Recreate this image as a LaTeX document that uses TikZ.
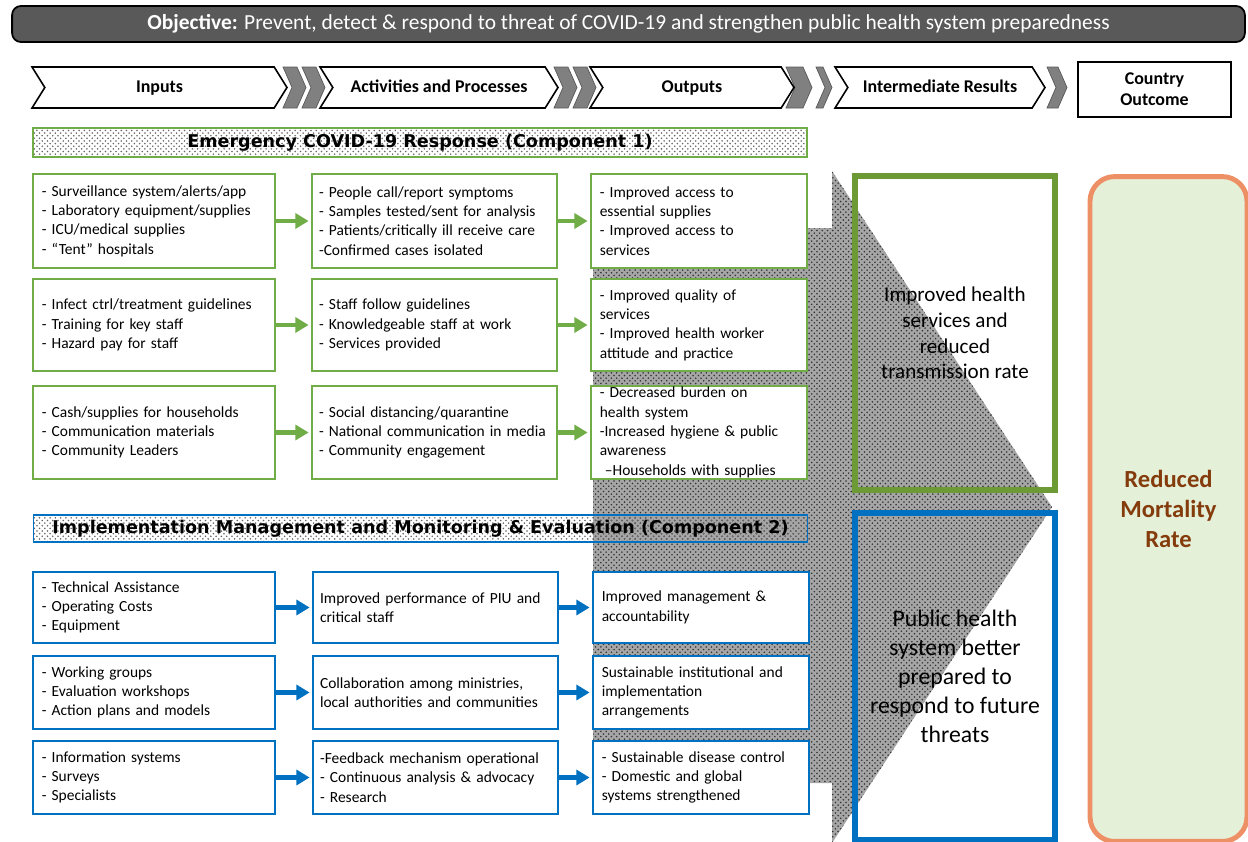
\documentclass[tikz,border=0pt]{standalone}
\usepackage{fontspec}
\setmainfont{Carlito}
\newfontfamily\bandfamily{DejaVu Sans}
\usetikzlibrary{arrows.meta}
\usetikzlibrary{patterns}
\usetikzlibrary{shapes.symbols}
\definecolor{cgreen}{HTML}{70AD47}
\definecolor{irgreen}{HTML}{6C9A34}
\definecolor{cblue}{HTML}{0070C0}
\definecolor{objgray}{HTML}{595959}
\definecolor{chevgray}{HTML}{808080}
\definecolor{mortline}{HTML}{EE9066}
\definecolor{mortfill}{HTML}{E5F0D9}
\definecolor{mortbrown}{HTML}{843C0C}
\newcommand{\cellfont}{\fontsize{8.8}{11}\selectfont\hyphenpenalty=10000}
\newcommand{\headfont}{\fontsize{10.2}{12}\selectfont\bfseries}
\newcommand{\bandfont}{\fontsize{10}{12}\selectfont\bandfamily\bfseries}

\begin{document}
\begin{tikzpicture}[x=0.02cm, y=-0.02cm,
    cell/.style={draw=cgreen, line width=0.85pt, fill=white, align=left,
      inner xsep=5pt, inner ysep=1pt, font=\cellfont},
    bcell/.style={cell, draw=cblue},
    colin/.style={text width=4.49cm},
    colact/.style={text width=4.62cm, inner xsep=4pt},
    colout/.style={text width=3.97cm},
    chev/.style={signal, signal from=west, signal to=east, signal pointer angle=116,
      draw, line width=0.9pt, fill=white, minimum height=0.82cm, inner sep=0pt,
      text height=1.6ex, text depth=0.5ex, font=\headfont},
    band/.style={line width=0.9pt, minimum width=15.48cm, inner sep=0pt,
      pattern=crosshatch dots, pattern color=black!60, font=\bandfont},
    garrow/.style={-{Triangle[length=7.5pt,width=8.5pt]}, line width=2.8pt, cgreen, shorten >=1.5pt},
    barrow/.style={garrow, cblue},
    irbox/.style={line width=3pt, minimum width=4cm, align=center}]
  \useasboundingbox (0,0) rectangle (1248,842);

  % objective bar
  \node[draw=black, fill=objgray, rounded corners=5pt, line width=1pt, text=white,
    minimum width=24.66cm, minimum height=0.72cm, font=\fontsize{12.2}{14}\selectfont]
    (obj) at (628.5,24) {\textbf{Objective:} Prevent, detect \& respond to threat of COVID-19 and strengthen public health system preparedness};

  % results chain header
  \foreach \x/\w in {283/14, 302/14, 554/14, 573/14, 786/17, 816/7, 1047/11}
    \filldraw[fill=chevgray, draw=objgray, line width=0.4pt]
      (\x,67) -- ++(\w,0) -- ++(9,20.5) -- ++(-9,20.5) -- ++(-\w,0) -- ++(9,-20.5) -- cycle;
  \node[chev, minimum width=5.1cm] (hin) at (159.5,87.5) {Inputs};
  \node[chev, minimum width=4.76cm] (hact) at (439,87.5) {Activities and Processes};
  \node[chev, minimum width=4.08cm] (hout) at (692,87.5) {Outputs};
  \node[chev, minimum width=4.2cm] (hir) at (940,87.5) {Intermediate Results};
  \node[draw, line width=1pt, minimum width=3.06cm, minimum height=1.1cm, align=center,
    font=\headfont] (hcountry) at (1154.5,89.5) {Country\\Outcome};

  % big dotted arrow behind the outputs
  \path[fill=gray!70, postaction={pattern=crosshatch dots, pattern color=black!80}]
    (593,228) -- (832,228) -- (832,171) -- (1052,507) -- (832,843) -- (832,783) -- (593,783) -- cycle;

  % component 1
  \node[band, draw=cgreen, minimum height=0.58cm] (comp1) at (420,142.5)
    {Emergency COVID-19 Response (Component 1)};

  \node[cell, colin, minimum height=1.88cm] (in1) at (154,221)
    {- Surveillance system/alerts/app\\- Laboratory equipment/supplies\\- ICU/medical supplies\\- “Tent” hospitals};
  \node[cell, colact, minimum height=1.88cm] (act1) at (434.5,221)
    {- People call/report symptoms\\- Samples tested/sent for analysis\\- Patients/critically ill receive care\\-Confirmed cases isolated};
  \node[cell, colout, minimum height=1.88cm] (out1) at (699,221)
    {- Improved access to\\essential supplies\\- Improved access to\\services};

  \node[cell, colin, minimum height=1.84cm] (in2) at (154,325)
    {- Infect ctrl/treatment guidelines\\- Training for key staff\\- Hazard pay for staff};
  \node[cell, colact, minimum height=1.84cm] (act2) at (434.5,325)
    {- Staff follow guidelines\\- Knowledgeable staff at work\\- Services provided};
  \node[cell, colout, minimum height=1.84cm] (out2) at (699,325)
    {- Improved quality of\\services\\- Improved health worker\\attitude and practice};

  \node[cell, colin, minimum height=1.86cm] (in3) at (154,432.5)
    {- Cash/supplies for households\\- Communication materials\\- Community Leaders};
  \node[cell, colact, minimum height=1.86cm] (act3) at (434.5,432.5)
    {- Social distancing/quarantine\\- National communication in media\\- Community engagement};
  \node[cell, colout, minimum height=1.86cm, inner ysep=0pt] (out3) at (699,432.5)
    {- Decreased burden on\\health system\\-Increased hygiene \& public\\awareness\\\ –Households with supplies};

  \foreach \r in {1,2,3} {
    \draw[garrow] (in\r) -- (act\r);
    \draw[garrow] (act\r) -- (out\r);
  }

  % component 2
  \node[band, draw=cblue, minimum height=0.54cm] (comp2) at (420.5,528.5)
    {Implementation Management and Monitoring \& Evaluation (Component 2)};

  \node[bcell, colin, minimum height=1.42cm] (in4) at (154,607.5)
    {- Technical Assistance\\- Operating Costs\\- Equipment};
  \node[bcell, colact, minimum height=1.42cm] (act4) at (435.5,607.5)
    {Improved performance of PIU and\\critical staff};
  \node[bcell, colout, minimum height=1.42cm] (out4) at (701,607.5)
    {Improved management \&\\accountability};

  \node[bcell, colin, minimum height=1.46cm] (in5) at (154,692.5)
    {- Working groups\\- Evaluation workshops\\- Action plans and models};
  \node[bcell, colact, minimum height=1.46cm] (act5) at (435.5,692.5)
    {Collaboration among ministries,\\local authorities and communities};
  \node[bcell, colout, minimum height=1.46cm] (out5) at (701,692.5)
    {Sustainable institutional and\\implementation\\arrangements};

  \node[bcell, colin, minimum height=1.46cm] (in6) at (154,777.5)
    {- Information systems\\- Surveys\\- Specialists};
  \node[bcell, colact, minimum height=1.46cm] (act6) at (435.5,777.5)
    {-Feedback mechanism operational\\- Continuous analysis \& advocacy\\- Research};
  \node[bcell, colout, minimum height=1.46cm] (out6) at (701,777.5)
    {- Sustainable disease control\\- Domestic and global\\systems strengthened};

  \foreach \r in {4,5,6} {
    \draw[barrow] (in\r) -- (act\r);
    \draw[barrow] (act\r) -- (out\r);
  }

  % intermediate results
  \node[irbox, draw=irgreen, minimum height=6.28cm, font=\fontsize{12}{14.7}\selectfont]
    (ir1) at (955,333) {Improved health\\services and\\reduced\\transmission rate};
  \node[irbox, draw=cblue, line width=3.4pt, minimum height=6.54cm, font=\fontsize{13.5}{16.5}\selectfont]
    (ir2) at (955,676.5) {Public health\\system better\\prepared to\\respond to future\\threats};

  % country outcome
  \node[draw=mortline, fill=mortfill, line width=2.8pt, rounded corners=14pt,
    minimum width=3.14cm, minimum height=13.3cm, align=center, text=mortbrown,
    font=\fontsize{14}{17}\selectfont\bfseries] (mort) at (1168.5,509) {Reduced\\Mortality\\Rate};
\end{tikzpicture}
\end{document}
